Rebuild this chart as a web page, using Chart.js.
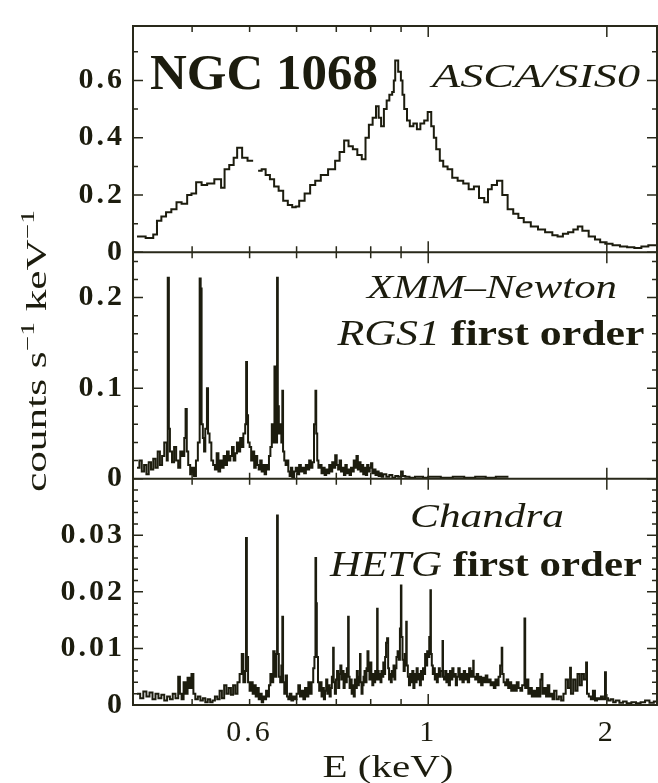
<!DOCTYPE html>
<html>
<head>
<meta charset="utf-8">
<script src="https://cdn.jsdelivr.net/npm/chart.js@4.4.1/dist/chart.umd.min.js"></script>
<style>
  html, body { margin: 0; padding: 0; background: #fff; }
</style>
</head>
<body>
<canvas id="c" width="658" height="783"></canvas>
<script>
// energy axis (keV, log)
const xMin = 0.318, xMax = 2.43;
const xTickVals = [0.5, 1, 2];
const xTickText = ['0.6', '1', '2'];
const xMinorVals = [0.4, 0.5, 0.6, 0.7, 0.8, 0.9];
const xMajorVals = [1, 2];

// count-rate axes, one per panel
const y1Max = 0.79, y2Max = 0.25, y3Max = 0.04;
const y1TickVals = [0, 0.2, 0.4, 0.6];
const y1TickText = ['0', '0.2', '0.4', '0.6'];
const y1Minor = [0.1, 0.3, 0.5, 0.7];
const y2TickVals = [0, 0.1, 0.2];
const y2TickText = ['0', '0.1', '0.2'];
const y2Minor = [0.02, 0.04, 0.06, 0.08, 0.12, 0.14, 0.16, 0.18, 0.22, 0.24];
const y3TickVals = [0, 0.01, 0.02, 0.03];
const y3TickText = ['0', '0.01', '0.02', '0.03'];
const y3Minor = [0.002, 0.004, 0.006, 0.008, 0.012, 0.014, 0.016, 0.018, 0.022, 0.024, 0.026, 0.028, 0.032, 0.034, 0.036, 0.038];

// ASCA/SIS0 spectrum
const asE = [0.323,0.334,0.344,0.349,0.355,0.3615,0.369,0.3765,0.384,0.3924,
  0.399,0.4063,0.415,0.424,0.436,0.4476,0.4537,0.462,0.470,0.4764,
  0.4857,0.496,0.5069,0.510,0.5168,0.524,0.5321,0.541,0.5499,0.5596,
  0.5696,0.5799,0.5899,0.598,0.6061,0.619,0.6324,0.645,0.6591,0.678,
  0.6968,0.709,0.7216,0.734,0.7464,0.7595,0.7727,0.784,0.7943,0.806,
  0.8166,0.825,0.8329,0.842,0.8511,0.860,0.8695,0.875,0.8798,0.890,
  0.8994,0.905,0.9111,0.921,0.9311,0.944,0.957,0.970,0.9846,0.998,
  1.0118,1.022,1.0316,1.046,1.060,1.078,1.0977,1.121,1.1456,1.170,
  1.1941,1.218,1.2429,1.261,1.2797,1.306,1.3331,1.361,1.3909,1.419,
  1.4488,1.489,1.5311,1.574,1.6188,1.652,1.6866,1.721,1.7563,1.787,
  1.8188,1.864,1.9101,1.949,1.9882,2.045,2.1047,2.164,2.2254,2.287,
  2.3496,2.43];
const asC = [0.055,0.05,0.062,0.11,0.125,0.14,0.15,0.175,0.17,0.20,
  0.205,0.245,0.235,0.24,0.255,0.225,0.29,0.305,0.33,0.365,
  0.33,0.32,0.32,null,0.285,0.29,0.27,0.255,0.23,0.215,
  0.18,0.165,0.157,0.16,0.18,0.205,0.235,0.25,0.27,0.29,
  0.32,0.35,0.39,0.37,0.36,0.34,0.325,0.40,0.445,0.47,
  0.51,0.47,0.44,0.50,0.53,0.55,0.56,0.60,0.67,0.63,
  0.60,0.55,0.50,0.46,0.44,0.45,0.43,0.45,0.46,0.49,
  0.44,0.40,0.36,0.32,0.30,0.29,0.26,0.25,0.24,0.22,
  0.23,0.19,0.175,0.22,0.235,0.25,0.20,0.15,0.135,0.12,
  0.105,0.09,0.08,0.07,0.06,0.055,0.065,0.07,0.08,0.09,
  0.075,0.055,0.045,0.035,0.03,0.025,0.02,0.018,0.015,0.02,
  0.025,0.03];

// XMM-Newton RGS1 spectrum
const rgE = [0.323,0.326,0.329,0.332,0.335,0.338,0.341,0.344,0.347,0.350,
  0.353,0.356,0.359,0.3625,0.3639,0.3655,0.367,0.370,0.373,0.376,
  0.379,0.382,0.385,0.388,0.390,0.3918,0.394,0.397,0.400,0.403,
  0.406,0.409,0.4119,0.4135,0.415,0.417,0.419,0.421,0.4237,0.4255,
  0.428,0.431,0.434,0.437,0.440,0.443,0.446,0.449,0.452,0.455,
  0.458,0.461,0.464,0.467,0.470,0.473,0.476,0.479,0.482,0.485,
  0.488,0.4915,0.4933,0.495,0.497,0.500,0.503,0.506,0.509,0.512,
  0.515,0.518,0.521,0.524,0.527,0.530,0.533,0.536,0.539,0.542,
  0.545,0.548,0.5506,0.552,0.5545,0.5562,0.5578,0.560,0.563,0.5655,
  0.5677,0.5693,0.572,0.575,0.578,0.581,0.584,0.587,0.590,0.594,
  0.598,0.602,0.606,0.610,0.614,0.618,0.622,0.626,0.630,0.634,
  0.638,0.642,0.6456,0.6475,0.650,0.653,0.657,0.661,0.665,0.669,
  0.673,0.677,0.681,0.685,0.689,0.693,0.697,0.701,0.705,0.709,
  0.713,0.717,0.721,0.725,0.729,0.733,0.737,0.741,0.745,0.749,
  0.753,0.757,0.761,0.765,0.769,0.773,0.777,0.781,0.785,0.789,
  0.793,0.797,0.801,0.805,0.810,0.815,0.820,0.825,0.830,0.835,
  0.840,0.850,0.860,0.870,0.880,0.890,0.900,0.906,0.915,0.93,
  0.95,0.98,1.0,1.05,1.1,1.15,1.2,1.25,1.3,1.36,
  1.37,1.462,1.474];
const rgC = [0.012,0.02,0.008,0.015,0.005,0.018,0.01,0.022,0.012,0.03,
  0.015,0.025,0.04,0.02,0.222,0.055,0.03,0.018,0.035,0.02,
  0.012,0.03,0.025,0.045,0.077,0.03,0.015,0.005,0.012,0.003,
  0.02,0.04,0.221,0.21,0.06,0.045,0.03,0.055,0.10,0.05,
  0.04,0.02,0.015,0.01,0.028,0.008,0.02,0.012,0.025,0.015,
  0.03,0.02,0.025,0.035,0.02,0.028,0.04,0.03,0.045,0.035,
  0.05,0.06,0.129,0.07,0.04,0.035,0.02,0.03,0.012,0.025,
  0.015,0.01,0.02,0.008,0.015,0.005,0.015,0.01,0.025,0.035,
  0.06,0.04,0.124,0.07,0.04,0.222,0.08,0.05,0.06,0.04,
  0.097,0.03,0.02,0.015,0.02,0.008,0.003,0.012,0.0,0.008,
  0.012,0.005,0.015,0.008,0.012,0.006,0.015,0.01,0.02,0.012,
  0.018,0.06,0.097,0.05,0.02,0.012,0.015,0.006,0.012,0.004,
  0.01,0.006,0.015,0.008,0.018,0.012,0.026,0.015,0.01,0.02,
  0.008,0.012,0.004,0.015,0.006,0.01,0.004,0.012,0.008,0.02,
  0.012,0.025,0.01,0.018,0.008,0.015,0.005,0.012,0.004,0.015,
  0.008,0.012,0.017,0.006,0.01,0.004,0.008,0.003,0.006,0.002,
  0.005,0.002,0.004,0.001,0.003,0.002,0.008,0.003,0.002,0.001,
  0.002,0.001,0.002,0.001,0.002,0.001,0.002,0.001,0.002,0.001,
  null,0.002,null];

// Chandra HETG spectrum
const heE = [0.323,0.327,0.331,0.335,0.339,0.343,0.347,0.351,0.355,0.359,
  0.363,0.367,0.371,0.375,0.379,0.3815,0.384,0.387,0.390,0.393,
  0.396,0.399,0.402,0.405,0.409,0.413,0.417,0.421,0.425,0.429,
  0.433,0.437,0.441,0.445,0.449,0.453,0.457,0.461,0.465,0.469,
  0.473,0.477,0.481,0.485,0.488,0.4915,0.4931,0.4947,0.497,0.500,
  0.503,0.506,0.509,0.512,0.515,0.518,0.521,0.524,0.527,0.530,
  0.533,0.536,0.539,0.542,0.545,0.548,0.551,0.5545,0.5562,0.5578,
  0.560,0.563,0.5655,0.5677,0.5693,0.572,0.575,0.578,0.581,0.584,
  0.588,0.592,0.596,0.600,0.604,0.608,0.612,0.616,0.620,0.624,
  0.628,0.632,0.636,0.640,0.643,0.6456,0.6472,0.649,0.652,0.655,
  0.658,0.661,0.664,0.667,0.670,0.673,0.676,0.679,0.682,0.685,
  0.688,0.6914,0.693,0.696,0.699,0.702,0.705,0.708,0.711,0.714,
  0.717,0.720,0.723,0.726,0.729,0.7328,0.7345,0.737,0.740,0.743,
  0.746,0.749,0.752,0.755,0.758,0.761,0.764,0.7674,0.769,0.772,
  0.775,0.778,0.781,0.784,0.787,0.790,0.793,0.796,0.799,0.802,
  0.805,0.808,0.811,0.814,0.817,0.8201,0.8218,0.825,0.828,0.831,
  0.834,0.837,0.840,0.843,0.846,0.849,0.8525,0.856,0.859,0.862,
  0.865,0.868,0.871,0.874,0.877,0.880,0.884,0.888,0.892,0.896,
  0.8994,0.9012,0.905,0.909,0.913,0.9182,0.920,0.924,0.928,0.932,
  0.936,0.940,0.944,0.948,0.952,0.956,0.960,0.964,0.968,0.972,
  0.976,0.980,0.984,0.988,0.992,0.996,1.000,1.004,1.0086,1.0105,
  1.014,1.018,1.022,1.026,1.030,1.034,1.038,1.042,1.046,1.050,
  1.0571,1.059,1.063,1.068,1.073,1.078,1.083,1.088,1.093,1.098,
  1.103,1.108,1.113,1.118,1.124,1.130,1.136,1.142,1.148,1.154,
  1.160,1.166,1.172,1.178,1.184,1.1909,1.193,1.200,1.207,1.214,
  1.221,1.228,1.235,1.242,1.250,1.258,1.266,1.274,1.282,1.290,
  1.298,1.306,1.314,1.322,1.330,1.333,1.340,1.348,1.356,1.364,
  1.372,1.380,1.390,1.400,1.410,1.420,1.430,1.440,1.4529,1.457,
  1.465,1.475,1.485,1.495,1.505,1.515,1.525,1.535,1.545,1.5527,
  1.558,1.570,1.580,1.590,1.600,1.610,1.620,1.630,1.645,1.660,
  1.675,1.690,1.705,1.720,1.7344,1.740,1.755,1.770,1.785,1.800,
  1.815,1.830,1.8454,1.852,1.865,1.880,1.895,1.910,1.925,1.940,
  1.955,1.970,1.9861,1.993,2.010,2.030,2.050,2.070,2.100,2.130,
  2.160,2.200,2.240,2.280,2.320,2.360,2.400,2.430];
const heC = [0.002,0.0012,0.0024,0.0015,0.0022,0.001,0.002,0.0012,0.0018,0.0008,
  0.0015,0.001,0.002,0.0012,0.005,0.002,0.001,0.004,0.002,0.0048,
  0.003,0.0055,0.002,0.001,0.0015,0.0008,0.0012,0.0005,0.001,0.0005,
  0.0008,0.0015,0.001,0.0025,0.0012,0.0035,0.002,0.003,0.0018,0.0035,
  0.002,0.004,0.0055,0.009,0.004,0.006,0.0295,0.0085,0.004,0.0025,
  0.004,0.002,0.0035,0.0015,0.003,0.001,0.002,0.0005,0.0015,0.001,
  0.0025,0.0015,0.0035,0.0055,0.004,0.0095,0.005,0.009,0.0335,0.009,
  0.005,0.004,0.007,0.0156,0.004,0.002,0.0052,0.0015,0.001,0.002,
  0.0008,0.0015,0.001,0.002,0.0035,0.0015,0.0025,0.001,0.003,0.0015,
  0.004,0.002,0.004,0.0065,0.0085,0.026,0.018,0.0085,0.004,0.0025,
  0.004,0.0015,0.003,0.001,0.0025,0.0045,0.002,0.0035,0.0015,0.003,
  0.005,0.0101,0.004,0.002,0.0045,0.006,0.003,0.0055,0.007,0.0045,
  0.006,0.003,0.0055,0.004,0.0065,0.0156,0.005,0.003,0.0045,0.002,
  0.0035,0.0015,0.0045,0.003,0.006,0.0035,0.005,0.009,0.004,0.002,
  0.0035,0.005,0.006,0.004,0.0065,0.0095,0.006,0.0045,0.0075,0.005,
  0.0035,0.0055,0.004,0.006,0.0045,0.017,0.006,0.0045,0.0055,0.004,
  0.006,0.005,0.0075,0.0055,0.0085,0.011,0.0118,0.0065,0.0045,0.0055,
  0.004,0.006,0.005,0.007,0.0045,0.0065,0.0085,0.0095,0.008,0.0135,
  0.0211,0.012,0.008,0.006,0.009,0.0147,0.007,0.005,0.0035,0.0055,
  0.004,0.006,0.003,0.0055,0.004,0.0065,0.0045,0.0055,0.0035,0.006,
  0.0045,0.0065,0.0055,0.009,0.007,0.0095,0.0085,0.012,0.0203,0.009,
  0.007,0.0055,0.0065,0.0045,0.0055,0.004,0.005,0.0065,0.005,0.006,
  0.0113,0.005,0.0045,0.006,0.004,0.0055,0.0035,0.006,0.0045,0.0065,
  0.005,0.0055,0.0035,0.005,0.0065,0.0045,0.0055,0.004,0.006,0.0045,
  0.0055,0.004,0.0065,0.005,0.006,0.0078,0.005,0.0045,0.0055,0.004,
  0.005,0.0035,0.0048,0.004,0.0052,0.004,0.0045,0.0035,0.004,0.003,
  0.0045,0.0035,0.005,0.007,0.0101,0.0055,0.004,0.0035,0.0045,0.003,
  0.004,0.0025,0.0035,0.0025,0.004,0.003,0.0025,0.0035,0.0153,0.003,
  0.0045,0.002,0.003,0.0015,0.0025,0.0015,0.003,0.0015,0.0045,0.0055,
  0.002,0.003,0.0015,0.0035,0.0015,0.002,0.001,0.0025,0.001,0.0015,
  0.0008,0.002,0.0045,0.003,0.0066,0.002,0.0045,0.0025,0.0055,0.0035,
  0.0055,0.0045,0.0075,0.002,0.0015,0.001,0.0025,0.0008,0.0012,0.001,
  0.0015,0.001,0.0058,0.0012,0.0008,0.001,0.0005,0.0008,0.0004,0.0006,
  0.0003,0.0005,0.0003,0.0005,0.0008,0.0004,0.0006,0.0004];

const ink = '#1c1c0e';
const frameInk = '#29291a';
const serif = '"Liberation Serif", "Times New Roman", serif';

function pts(es, cs) {
  return es.map((e, i) => ({ x: e, y: cs[i] }));
}

function yScale(max, vals, text) {
  return {
    type: 'linear', position: 'left', stack: 'panels', stackWeight: 1,
    min: 0, max: max, bounds: 'data',
    grid: { display: false, drawTicks: false },
    border: { display: false },
    afterBuildTicks: s => { s.ticks = vals.map(v => ({ value: v })); s.min = 0; s.max = max; },
    afterFit: s => { s.width = 133; },
    ticks: {
      autoSkip: false, padding: 8, color: ink,
      font: { family: serif, size: 30, weight: 'bold' },
      callback: (v, i) => text[i]
    }
  };
}

// draw a run of text pieces squeezed or stretched to a given width
function fitText(ctx, parts, x, y, width, align) {
  let total = 0;
  parts.forEach(p => { ctx.font = p[1]; total += ctx.measureText(p[0]).width; });
  const k = width / total;
  ctx.save();
  ctx.translate(align === 'center' ? x - width / 2 : x, y);
  ctx.scale(k, 1);
  let cx = 0;
  parts.forEach(p => {
    ctx.font = p[1];
    ctx.fillText(p[0], cx, p[2] || 0);
    cx += ctx.measureText(p[0]).width;
  });
  ctx.restore();
}

// the tick numbers in the figure are set wide
const spacingPlugin = {
  id: 'spacing',
  beforeDraw(chart) { chart.ctx.letterSpacing = '3px'; }
};

const framePlugin = {
  id: 'frame',
  afterDatasetsDraw(chart) {
    const { ctx, chartArea: a, scales } = chart;
    const x = scales.x;
    ctx.save();
    ctx.strokeStyle = frameInk;
    ctx.lineWidth = 2;
    ctx.strokeRect(a.left, a.top, a.right - a.left, a.bottom - a.top);
    ctx.beginPath();
    [scales.y2, scales.y3].forEach(s => {
      ctx.moveTo(a.left, s.top);
      ctx.lineTo(a.right, s.top);
    });
    ctx.stroke();

    ctx.lineWidth = 1.5;
    ctx.beginPath();
    const panels = [
      [scales.y1, y1TickVals, y1Minor],
      [scales.y2, y2TickVals, y2Minor],
      [scales.y3, y3TickVals, y3Minor]
    ];
    panels.forEach(([s, major, minor]) => {
      const tickY = (v, len) => {
        const py = s.getPixelForValue(v);
        ctx.moveTo(a.left, py); ctx.lineTo(a.left + len, py);
        ctx.moveTo(a.right, py); ctx.lineTo(a.right - len, py);
      };
      major.forEach(v => tickY(v, 10));
      minor.forEach(v => tickY(v, 5));
      const tickX = (v, len) => {
        const px = x.getPixelForValue(v);
        ctx.moveTo(px, s.top); ctx.lineTo(px, s.top + len);
        ctx.moveTo(px, s.bottom); ctx.lineTo(px, s.bottom - len);
      };
      xMinorVals.forEach(v => tickX(v, 6));
      xMajorVals.forEach(v => tickX(v, 11));
    });
    ctx.stroke();
    ctx.restore();
  }
};

const labelPlugin = {
  id: 'labels',
  afterDraw(chart) {
    const ctx = chart.ctx;
    ctx.letterSpacing = '0px';
    ctx.save();
    ctx.fillStyle = ink;
    ctx.textBaseline = 'alphabetic';
    ctx.textAlign = 'left';
    fitText(ctx, [['NGC 1068', 'bold 50px ' + serif]], 150, 89, 228);
    fitText(ctx, [['ASCA/SIS0', 'italic 34px ' + serif]], 432, 87, 208);
    fitText(ctx, [['XMM\u2013Newton', 'italic 34px ' + serif]], 492, 298, 250, 'center');
    fitText(ctx, [['RGS1', 'italic 36px ' + serif], [' first order', 'bold 36px ' + serif]], 491, 345, 307, 'center');
    fitText(ctx, [['Chandra', 'italic 34px ' + serif]], 487, 527, 154, 'center');
    fitText(ctx, [['HETG', 'italic 36px ' + serif], [' first order', 'bold 36px ' + serif]], 486, 576, 312, 'center');
    fitText(ctx, [['E (keV)', '32px ' + serif]], 388, 777, 131, 'center');
    // y axis title, reading upward
    ctx.translate(46, 351);
    ctx.rotate(-Math.PI / 2);
    fitText(ctx, [
      ['counts s', '30px ' + serif],
      ['\u22121', '19px ' + serif, -12],
      [' keV', '30px ' + serif],
      ['\u22121', '19px ' + serif, -12]
    ], 0, 0, 282, 'center');
    ctx.restore();
  }
};

new Chart(document.getElementById('c'), {
  type: 'line',
  data: {
    datasets: [
      { label: 'ASCA/SIS0', data: pts(asE, asC), yAxisID: 'y1' },
      { label: 'RGS1', data: pts(rgE, rgC), yAxisID: 'y2' },
      { label: 'HETG', data: pts(heE, heC), yAxisID: 'y3' }
    ]
  },
  options: {
    responsive: false,
    devicePixelRatio: 1,
    animation: false,
    layout: { padding: { left: 0, right: 1, top: 16, bottom: 0 } },
    plugins: { legend: { display: false }, tooltip: { enabled: false } },
    elements: {
      line: { stepped: true, borderWidth: 2, borderColor: ink, fill: false, tension: 0 },
      point: { radius: 0 }
    },
    scales: {
      x: {
        type: 'logarithmic', position: 'bottom', min: xMin, max: xMax, bounds: 'data',
        grid: { display: false, drawTicks: false },
        border: { display: false },
        // keep the exact energy range (the log scale would round it to 0.3)
        afterBuildTicks: s => { s.ticks = xTickVals.map(v => ({ value: v })); s.min = xMin; s.max = xMax; },
        afterFit: s => { s.height = 78; s.paddingLeft = 0; s.paddingRight = 0; },
        ticks: {
          autoSkip: false, maxRotation: 0, padding: 10, color: ink,
          font: { family: serif, size: 30 },
          callback: (v, i) => xTickText[i]
        }
      },
      y3: yScale(y3Max, y3TickVals, y3TickText),
      y2: yScale(y2Max, y2TickVals, y2TickText),
      y1: yScale(y1Max, y1TickVals, y1TickText)
    }
  },
  plugins: [spacingPlugin, framePlugin, labelPlugin]
});
</script>
</body>
</html>
